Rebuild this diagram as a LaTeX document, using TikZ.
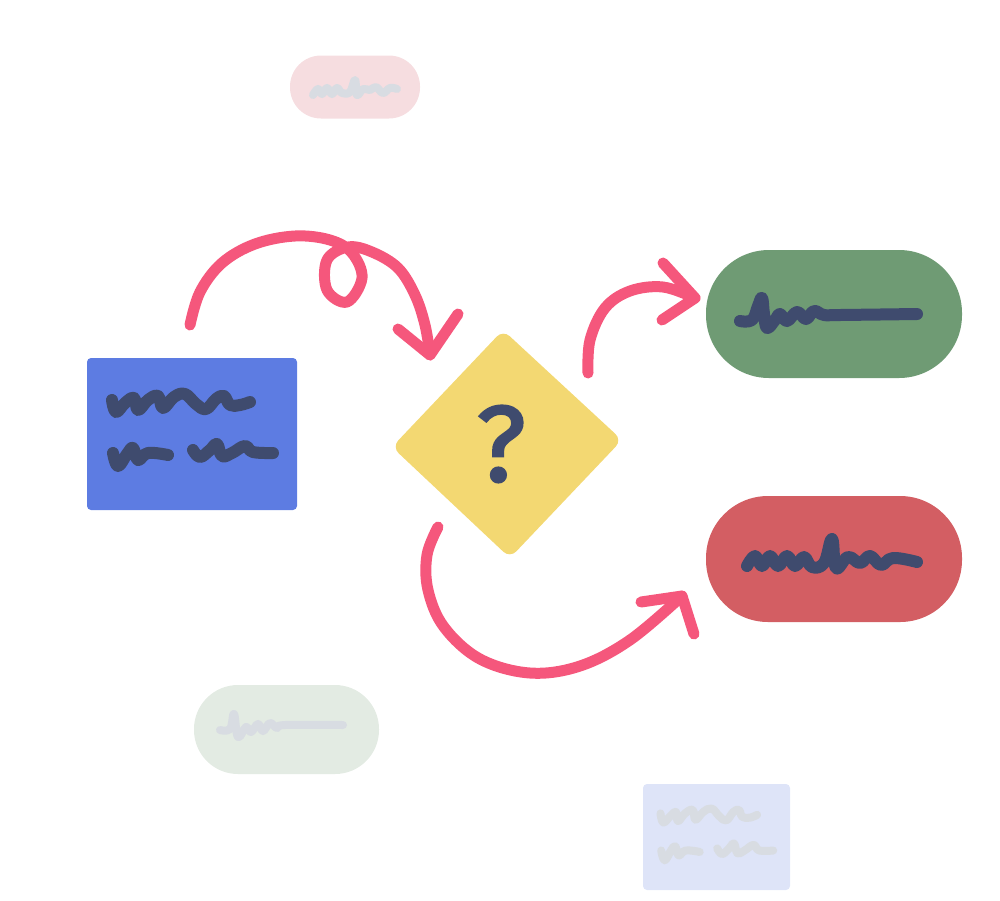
\documentclass[tikz,border=0pt]{standalone}
\usepackage{fontspec}
\newfontfamily\qfont[FakeBold=2]{Fira Sans}
\definecolor{cblue}{HTML}{5D7CE2}
\definecolor{cyellow}{HTML}{F3D872}
\definecolor{cgreen}{HTML}{6F9B74}
\definecolor{cred}{HTML}{D35E63}
\definecolor{cpink}{HTML}{F5577C}
\definecolor{cink}{HTML}{3F4B6E}
\definecolor{cpalepink}{HTML}{F6DDE0}
\definecolor{cpalegreen}{HTML}{E3EBE3}
\definecolor{cpaleblue}{HTML}{DEE4F8}
\definecolor{cpaleink}{HTML}{D8DCE2}
\tikzset{
  box/.style={inner sep=0pt, rounded corners=4pt},
  pill/.style={inner sep=0pt},
  scrib/.style={draw=cink, line width=12pt, line cap=round, line join=round},
  palescrib/.style={draw=cpaleink, line width=8pt, line cap=round, line join=round},
  flow/.style={draw=cpink, line width=11pt, line cap=round, line join=round},
}
\begin{document}
\begin{tikzpicture}[x=1pt,y=-1pt]
\useasboundingbox (0,0) rectangle (1000,900);
% faint background shapes
\node[pill, fill=cpalepink, minimum width=130pt, minimum height=63pt, rounded corners=31pt] (fpink) at (355,87) {};
\node[pill, fill=cpalegreen, minimum width=185pt, minimum height=89pt, rounded corners=44pt] (fgreen) at (286.5,729.5) {};
\node[box, fill=cpaleblue, minimum width=147pt, minimum height=106pt] (fblue) at (716.5,837) {};
% main shapes
\node[box, fill=cblue, minimum width=210pt, minimum height=152pt] (src) at (192,434) {};
\node[pill, fill=cgreen, minimum width=256pt, minimum height=128pt, rounded corners=63pt] (yes) at (834,314) {};
\node[pill, fill=cred, minimum width=256pt, minimum height=126pt, rounded corners=62pt] (no) at (834,559) {};
\coordinate (dt) at (503,330);
\coordinate (dr) at (622,440);
\coordinate (db) at (510,558);
\coordinate (dl) at (392,447);
\fill[cyellow, rounded corners=9pt] (dt) -- (dr) -- (db) -- (dl) -- cycle;
\node[text=cink, font=\qfont\fontsize{108}{110}\selectfont, inner sep=0pt] (q) at (501,444) {?};
% scribbles
\draw[scrib] plot[smooth, tension=0.7] coordinates {(112,400) (116,412) (125,403) (134,398) (138,410) (148,400) (158,396) (163,408) (174,397) (185,394) (196,404) (206,409) (216,399) (224,396) (230,405) (240,405) (250,402)};
\draw[scrib] plot[smooth, tension=0.7] coordinates {(113,453) (118,466) (127,454) (133,448) (138,460) (148,453) (168,455)};
\draw[scrib] plot[smooth, tension=0.7] coordinates {(193,450) (200,457) (210,450) (217,444) (222,456) (232,453) (245,446) (253,452) (273,453)};
\draw[scrib] plot[smooth, tension=0.7] coordinates {(740,321) (752,320) (758,306) (762,298) (764,314) (767,328) (775,320) (780,314) (787,321) (797,312) (806,319) (814,311) (824,315) (840,315) (917,314)};
\draw[scrib] plot[smooth, tension=0.7] coordinates {(747,566) (755,556) (762,566) (770,556) (778,566) (787,556) (795,566) (804,557) (812,567) (824,563) (832,539) (836,568) (848,557) (860,563) (870,556) (881,565) (893,558) (917,562)};
\draw[palescrib] plot[smooth, tension=0.7] coordinates {(313,95) (318,89) (322,94) (327,88) (332,94) (337,88) (342,93) (350,92) (355,80) (357,95) (363,89) (370,90) (376,87) (383,93) (390,88) (397,89)};
\draw[palescrib] plot[smooth, tension=0.7] coordinates {(220,730) (230,729) (234,714) (238,737) (246,727) (251,732) (258,724) (263,731) (270,723) (277,728) (285,725) (343,725)};
\draw[palescrib] plot[smooth, tension=0.7] coordinates {(660.5,813.4) (663.3,822.5) (670.3,816.2) (675.9,812) (678,821.1) (685,813.4) (692.7,809.9) (695.5,819.7) (703.2,812) (711.6,808.5) (719.3,816.2) (726.3,820.4) (733.3,812) (738.9,809.9) (742.4,816.9) (750.1,817.6) (757.1,814.8)};
\draw[palescrib] plot[smooth, tension=0.7] coordinates {(661.2,850.5) (664.7,860.3) (671,850.5) (675.2,846.3) (678.7,855.4) (685.7,850.5) (699.7,851.9)};
\draw[palescrib] plot[smooth, tension=0.7] coordinates {(717.2,848.4) (722.1,854) (729.1,848.4) (734,843.5) (737.5,853.3) (744.5,850.5) (753.6,844.9) (759.2,850.5) (773.2,850.5)};
% connectors
\coordinate (a1s) at (190,325);
\coordinate (a1t) at (430,355);
\draw[flow] plot[smooth, tension=0.6] coordinates {(a1s) (200,292) (222,263) (255,244) (295,236) (330,240) (352,253) (362,278) (347,302) (327,290) (327,260) (348,247) (372,252) (398,268) (415,295) (425,325) (a1t)};
\draw[flow] (398,329) -- (a1t) -- (458,314);
\coordinate (a2s) at (588,373);
\coordinate (a2t) at (695,298);
\draw[flow] plot[smooth, tension=0.6] coordinates {(a2s) (590,340) (605,308) (630,291) (663,287) (a2t)};
\draw[flow] (663,263) -- (a2t) -- (662,320);
\coordinate (a3s) at (438,527);
\coordinate (a3t) at (682,596);
\draw[flow] plot[smooth, tension=0.6] coordinates {(a3s) (427,555) (428,590) (444,627) (480,659) (530,673) (580,666) (630,640) (a3t)};
\draw[flow] (641,602) -- (a3t) -- (694,634);
\end{tikzpicture}
\end{document}
